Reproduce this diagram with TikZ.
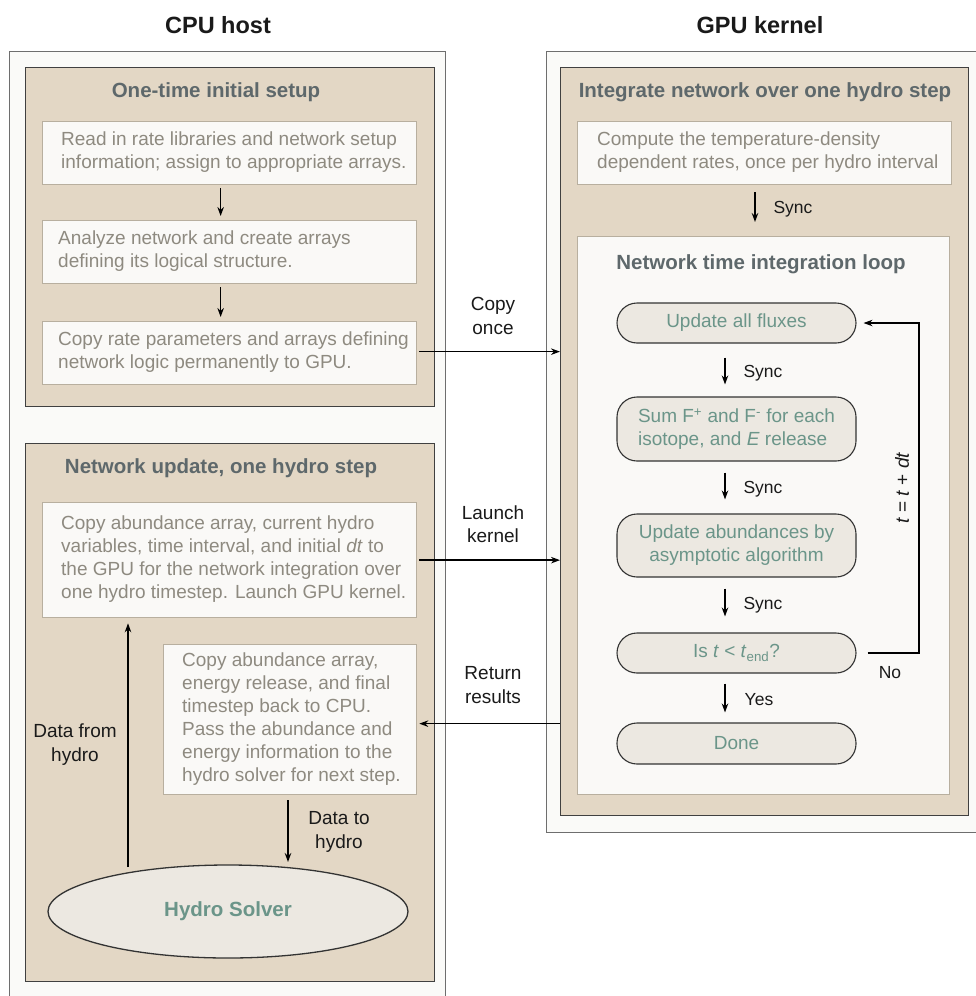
\documentclass[tikz,border=0pt]{standalone}
\usepackage{fontspec}
\setmainfont{Liberation Sans}
\usetikzlibrary{shapes.geometric,arrows.meta,calc}
\definecolor{outerfill}{HTML}{FAFAF8}
\definecolor{outerdraw}{HTML}{6E6E6E}
\definecolor{tanfill}{HTML}{E3D7C5}
\definecolor{tandraw}{HTML}{404040}
\definecolor{wfill}{HTML}{FAF9F7}
\definecolor{wdraw}{HTML}{B8AF9F}
\definecolor{rfill}{HTML}{ECE8E1}
\definecolor{rdraw}{HTML}{333333}
\definecolor{bodygrey}{HTML}{8E8A80}
\definecolor{titlegrey}{HTML}{5E686B}
\definecolor{tealtxt}{HTML}{6B9589}
\definecolor{lblblack}{HTML}{1A1A1A}
\newcommand\bodyfnt{\fontsize{19}{23}\selectfont}
\newcommand\hdfnt{\fontsize{20.5}{24}\selectfont\bfseries}
\newcommand\bigfnt{\fontsize{23.5}{28}\selectfont\bfseries}
\newcommand\lblfnt{\fontsize{19}{23.5}\selectfont}
\newcommand\syncfnt{\fontsize{17.5}{21}\selectfont}
\begin{document}
\begin{tikzpicture}[x=1pt,y=-1pt,
  outerbox/.style={draw=outerdraw,fill=outerfill,line width=1.3pt,inner sep=0pt,anchor=north west},
  tanbox/.style={draw=tandraw,fill=tanfill,line width=1.3pt,inner sep=0pt,anchor=north west},
  wbox/.style={draw=wdraw,fill=wfill,line width=1.3pt,inner sep=0pt,anchor=north west},
  rbox/.style={draw=rdraw,fill=rfill,line width=1.1pt,rounded corners=20pt,minimum width=239pt,inner sep=0pt,align=center,text=tealtxt,font=\bodyfnt},
  bodytxt/.style={align=left,inner sep=0pt,text=bodygrey,font=\bodyfnt,anchor=west},
  hdtxt/.style={inner sep=0pt,text=titlegrey,font=\hdfnt},
  lbl/.style={inner sep=0pt,align=center,text=lblblack,font=\lblfnt},
  synclbl/.style={inner sep=0pt,text=lblblack,font=\syncfnt},
  arr/.style={-{Stealth[length=9pt,width=6.5pt]},line width=1.4pt,draw=black}
]
\useasboundingbox (0,0) rectangle (976,996);
\fill[white] (0,0) rectangle (976,996);

% titles
\node[inner sep=0pt,font=\bigfnt,text=lblblack] (cputitle) at (218,25) {CPU host};
\node[inner sep=0pt,font=\bigfnt,text=lblblack] (gputitle) at (760,25) {GPU kernel};

% outer boxes
\node[outerbox,minimum width=436pt,minimum height=949pt] (cpu) at (9,51) {};
\node[outerbox,minimum width=434pt,minimum height=781pt] (gpu) at (546,51) {};

% CPU: one-time setup
\node[tanbox,minimum width=409pt,minimum height=339pt] (setup) at (25,67) {};
\node[hdtxt] (setuph) at (216,92) {One-time initial setup};
\node[wbox,minimum width=374pt,minimum height=63pt] (b1) at (42,121) {};
\node[bodytxt] (b1t) at (61,152.5) {Read in rate libraries and network setup\\information; assign to appropriate arrays.};
\node[wbox,minimum width=374pt,minimum height=63pt] (b2) at (42,220) {};
\node[bodytxt] (b2t) at (58,251.5) {Analyze network and create arrays\\defining its logical structure.};
\node[wbox,minimum width=374pt,minimum height=63pt] (b3) at (42,321) {};
\node[bodytxt] (b3t) at (58,352.5) {Copy rate parameters and arrays defining\\network logic permanently to GPU.};
\draw[arr] ($(b1.south)+(-9,3)$) -- ($(b2.north)+(-9,-4)$);
\draw[arr] ($(b2.south)+(-9,3)$) -- ($(b3.north)+(-9,-4)$);

% CPU: network update
\node[tanbox,minimum width=409pt,minimum height=538pt] (upd) at (25,443) {};
\node[hdtxt] (updh) at (221,468) {Network update, one hydro step};
\node[wbox,minimum width=374pt,minimum height=115pt] (bA) at (42,502) {};
\node[bodytxt] (bAt) at (61,559.5) {Copy abundance array, current hydro\\variables, time interval, and initial \textit{dt} to\\the GPU for the network integration over\\one hydro timestep. Launch GPU kernel.};
\node[wbox,minimum width=253pt,minimum height=150pt] (bB) at (163,644) {};
\node[bodytxt] (bBt) at (182,719) {Copy abundance array,\\energy release, and final\\timestep back to CPU.\\Pass the abundance and\\energy information to the\\hydro solver for next step.};
\node[ellipse,draw=rdraw,fill=rfill,line width=1.3pt,minimum width=360pt,minimum height=93pt,inner sep=0pt,text=tealtxt,font=\hdfnt] (hs) at (228,911.5) {Hydro Solver};
\coordinate (dfh) at (128,867);
\draw[arr] (dfh) -- ($(dfh |- bA.south)+(0,5)$);
\node[lbl] (dfhl) at (75,744.5) {Data from\\hydro};
\coordinate (dth) at (288,800);
\draw[arr] (dth) -- (288,862);
\node[lbl] (dthl) at (339,832) {Data to\\hydro};

% GPU
\node[tanbox,minimum width=408pt,minimum height=748pt] (gtan) at (560,67) {};
\node[hdtxt] (gtanh) at (765,92) {Integrate network over one hydro step};
\node[wbox,minimum width=374pt,minimum height=63pt] (comp) at (577,121) {};
\node[bodytxt] (compt) at (597,152.5) {Compute the temperature-density\\dependent rates, once per hydro interval};
\node[wbox,minimum width=372pt,minimum height=558pt] (loop) at (577,236) {};
\draw[arr] (755,192) -- (755,222);
\node[synclbl] (s0) at (793,209) {Sync};
\node[hdtxt] (looph) at (761,264) {Network time integration loop};

\node[rbox,minimum height=40pt] (r1) at (736.5,323) {Update all fluxes};
\node[rbox,minimum height=64pt,align=left] (r2) at (736.5,429) {Sum F\textsuperscript{+} and F\textsuperscript{-} for each\\isotope, and \textit{E} release};
\node[rbox,minimum height=63pt] (r3) at (736.5,545.5) {Update abundances by\\asymptotic algorithm};
\node[rbox,minimum height=40pt] (r4) at (736.5,653) {Is \textit{t} < \textit{t}\textsubscript{end}?};
\node[rbox,minimum height=41pt] (r5) at (736.5,743.5) {Done};

\draw[arr] ($(r1.south)+(-11.5,14)$) -- ($(r2.north)+(-11.5,-12)$);
\node[synclbl] (s1) at (763,373) {Sync};
\draw[arr] ($(r2.south)+(-11.5,11)$) -- ($(r3.north)+(-11.5,-14)$);
\node[synclbl] (s2) at (763,489) {Sync};
\draw[arr] ($(r3.south)+(-11.5,11)$) -- ($(r4.north)+(-11.5,-16)$);
\node[synclbl] (s3) at (763,605) {Sync};
\draw[arr] ($(r4.south)+(-11.5,10)$) -- ($(r5.north)+(-11.5,-10)$);
\node[synclbl] (s4) at (759,700) {Yes};

\draw[arr,line width=1.1pt] ($(r4.east)+(11,0)$) -- (919,653) -- (919,323) -- ($(r1.east)+(7,0)$);
\node[synclbl] (nol) at (890,673) {No};
\node[lbl,rotate=90] (incl) at (902,488) {\textit{t} = \textit{t} + \textit{dt}};

% CPU <-> GPU
\draw[arr] ($(b3.east)+(2,-1.5)$) -- ($(b3.east -| gtan.west)+(0,-1.5)$);
\node[lbl] (col) at (493,316) {Copy\\once};
\draw[arr] ($(bA.east)+(2,0)$) -- (bA.east -| gtan.west);
\node[lbl] (lkl) at (493,524) {Launch\\kernel};
\draw[arr] ($(bB.east -| gtan.west)+(0,4)$) -- ($(bB.east)+(2,4)$);
\node[lbl] (rrl) at (493,685) {Return\\results};
\end{tikzpicture}
\end{document}
